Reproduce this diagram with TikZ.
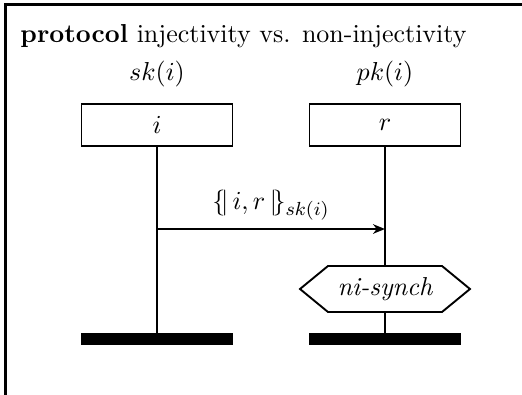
\documentclass[tikz,border=0pt]{standalone}
\usetikzlibrary{arrows.meta}
\begin{document}
\begin{tikzpicture}[x=0.4218pt,y=-0.4218pt,
  lbl/.style={inner sep=0pt, font=\fontsize{10.95}{13.6}\selectfont},
  rolebox/.style={draw, line width=0.8pt, minimum width=63.7pt, minimum height=17.7pt, inner sep=0pt, font=\fontsize{10.95}{13.6}\selectfont},
  endbar/.style={fill=black, minimum width=63.7pt, minimum height=4.8pt, inner sep=0pt},
  life/.style={line width=0.8pt}]
\useasboundingbox (0,0) rectangle (522,395);
\clip (0,0) rectangle (522,395);
\draw[line width=0.9pt] (5.5,4.5) rectangle (600,500);
\node[lbl, anchor=base west] (title) at (20,42) {\textbf{protocol} injectivity vs. non-injectivity};
\node[lbl, anchor=base] (skl) at (157,80) {$sk(i)$};
\node[lbl, anchor=base] (pkl) at (385,80) {$pk(i)$};
\node[rolebox] (bi) at (157,125) {$i$};
\node[rolebox] (br) at (385,125) {$r$};
\node[endbar] (ei) at (157,339) {};
\node[endbar] (er) at (385,339) {};
\node[lbl] (ns) at (385,289) {\itshape ni-synch};
\coordinate (hl) at (300,289);
\coordinate (hr) at (470,289);
\draw[life] (hl) -- (328,266) -- (442,266) -- (hr) -- (442,312) -- (328,312) -- cycle;
\draw[life] (bi.south) -- (ei.north);
\draw[life] (br.south) -- (385,266);
\draw[life] (385,312) -- (er.north);
\coordinate (ms) at (157,229);
\coordinate (mt) at (385,229);
\draw[life,-{Stealth[length=5pt,width=4pt,inset=1.5pt]}] (ms) -- node[lbl, above=3.5pt] (ml) {$\{\!|\, i, r \,|\!\}_{sk(i)}$} (mt);
\end{tikzpicture}
\end{document}
